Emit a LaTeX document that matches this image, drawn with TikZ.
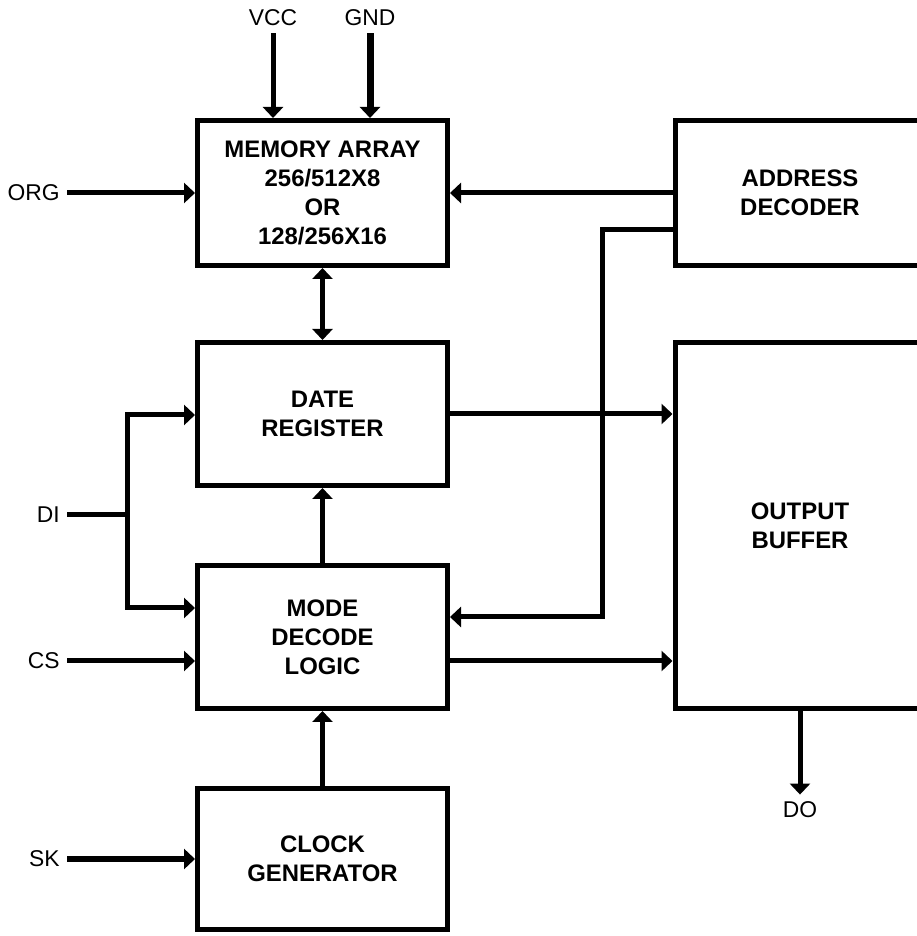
\documentclass[tikz,border=0pt]{standalone}
\usepackage{fontspec}
\setmainfont{Liberation Sans}
\usetikzlibrary{arrows.meta}
\usetikzlibrary{positioning}
\usetikzlibrary{calc}

\begin{document}
\begin{tikzpicture}[
  block/.style={draw, line width=0.1cm, minimum width=5.0cm, minimum height=2.86cm, align=center, font=\fontsize{13.6}{16.5}\selectfont\bfseries},
  pin/.style={font=\fontsize{13}{16}\selectfont, inner sep=0.14cm},
  sig/.style={line width=0.1cm, -{Triangle[width=0.4cm,length=0.22cm]}},
  wire/.style={line width=0.1cm}]
  \useasboundingbox (0,0) rectangle (18.34,18.72);
  \node[block, minimum height=2.9cm] (mem) at (6.45,14.86) {MEMORY ARRAY\\256/512X8\\OR\\128/256X16};
  \node[block] (reg) at (6.45,10.44) {DATE\\REGISTER};
  \node[block] (mode) at (6.45,5.98) {MODE\\DECODE\\LOGIC};
  \node[block, minimum height=2.82cm] (clk) at (6.45,1.54) {CLOCK\\GENERATOR};
  \node[block, minimum height=2.9cm] (addr) at (16.0,14.86) {ADDRESS\\DECODER};
  \node[block, minimum height=7.32cm] (out) at (16.0,8.21) {OUTPUT\\BUFFER};
  \node[pin] (vcc) at (5.46,18.36) {VCC};
  \node[pin] (gnd) at (7.4,18.36) {GND};
  \node[pin, anchor=east] (org) at (1.34,14.86) {ORG};
  \node[pin, anchor=east] (di) at (1.34,8.42) {DI};
  \node[pin, anchor=east] (cs) at (1.34,5.5) {CS};
  \node[pin, anchor=east] (sk) at (1.34,1.54) {SK};
  \node[pin] (do) at (16.0,2.52) {DO};
  \coordinate (split) at (2.54,8.42);
  \coordinate (bend) at (12.04,14.12);
  % supply and memory
  \draw[sig] (vcc) -- (vcc |- mem.north);
  \draw[sig, line width=0.14cm] (gnd) -- (gnd |- mem.north);
  \draw[sig] (org) -- (mem.west);
  \draw[sig] (addr.west) -- (mem.east);
  \draw[sig, {Triangle[width=0.4cm,length=0.22cm]}-{Triangle[width=0.4cm,length=0.22cm]}] (mem) -- (reg);
  % address decoder to mode decode
  \draw[sig] (addr.west |- bend) -- (bend) |- ($(mode.east)+(0,0.4)$);
  \draw[sig] (reg.east) -- (reg.east -| out.west);
  % data input
  \draw[wire] (di) -- (split);
  \draw[sig] (split) |- ($(reg.west)+(0,-0.02)$);
  \draw[sig] (split) |- ($(mode.west)+(0,0.58)$);
  \draw[sig] (cs) -- (cs -| mode.west);
  \draw[sig] (cs -| mode.east) -- (cs -| out.west);
  \draw[sig] (mode) -- (reg);
  \draw[sig] (clk) -- (mode);
  \draw[sig] (sk) -- (sk -| clk.west);
  \draw[sig] (out.south) -- (do);
\end{tikzpicture}
\end{document}
